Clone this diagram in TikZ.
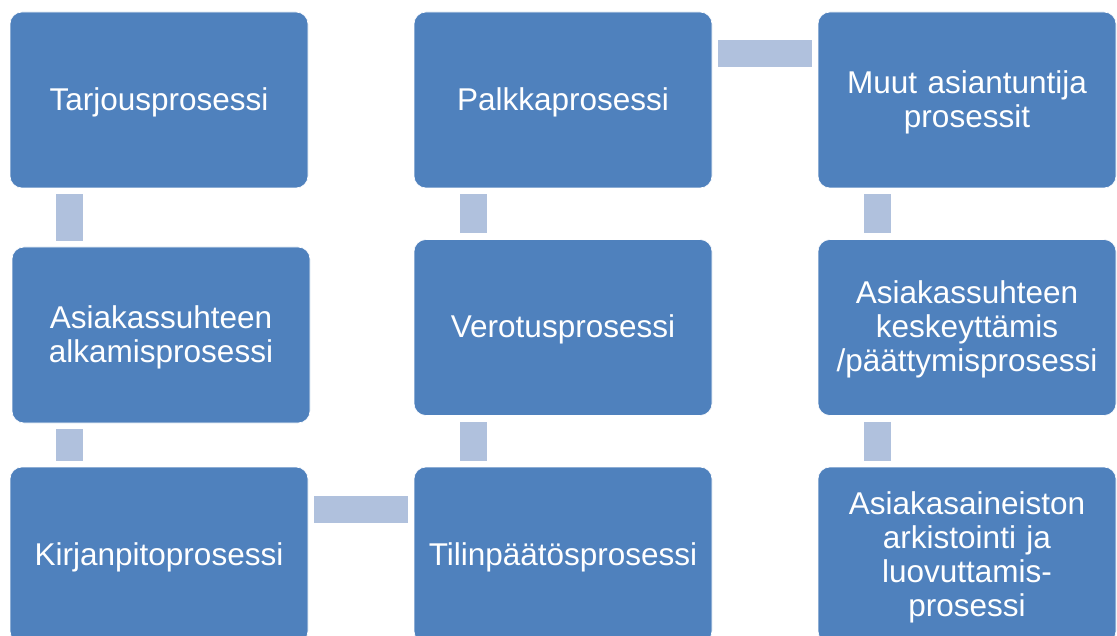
\documentclass[tikz,border=0pt]{standalone}
\usepackage{fontspec}
\setmainfont{Liberation Sans}
\usetikzlibrary{positioning}
\definecolor{boxblue}{HTML}{4F81BD}
\definecolor{linkblue}{HTML}{B0C1DD}

\begin{document}
\begin{tikzpicture}[x=1pt,y=-1pt,
  proc/.style={rectangle,rounded corners=12pt,fill=boxblue,draw=white,line width=0.6pt,
    minimum width=298pt,minimum height=176pt,text width=290pt,inner sep=0pt,
    align=center,text=white,font=\fontsize{31.5}{34}\selectfont,
    execute at end node={\endgraf\vspace*{-4pt}}},
  link/.style={draw=linkblue,line width=27pt,shorten <=6pt,shorten >=6pt}]
  \useasboundingbox (0,0) rectangle (1117,636);
  \clip (0,0) rectangle (1117,636);
  \node[proc] (tarjous) at (159,100) {Tarjousprosessi};
  \node[proc] (alku) at (161,335) {Asiakassuhteen\\alkamisprosessi};
  \node[proc] (kirjan) at (159,555) {Kirjanpitoprosessi};
  \node[proc] (tilin) at (563,555) {Tilinpäätösprosessi};
  \node[proc] (vero) at (563,327.5) {Verotusprosessi};
  \node[proc] (palkka) at (563,100) {Palkkaprosessi};
  \node[proc] (muut) at (967,100) {Muut asiantuntija\\prosessit};
  \node[proc] (paatos) at (967,327.5) {Asiakassuhteen\\keskeyttämis\\/päättymisprosessi};
  \node[proc] (arkisto) at (967,555) {Asiakasaineiston\\arkistointi ja\\luovuttamis-\\prosessi};
  \draw[link] ([xshift=59.5pt]tarjous.south west) -- ([xshift=59.5pt]tarjous.south west |- alku.north);
  \draw[link] ([xshift=59.5pt]tarjous.south west |- alku.south) -- ([xshift=59.5pt]kirjan.north west);
  \draw[link] ([yshift=-42.5pt]kirjan.north east) -- ([yshift=-42.5pt]kirjan.north east -| tilin.west);
  \draw[link] ([xshift=59.5pt]tilin.north west) -- ([xshift=59.5pt]tilin.north west |- vero.south);
  \draw[link] ([xshift=59.5pt]vero.north west) -- ([xshift=59.5pt]vero.north west |- palkka.south);
  \draw[link] ([yshift=-41.5pt]palkka.north east) -- ([yshift=-41.5pt]palkka.north east -| muut.west);
  \draw[link] ([xshift=59.5pt]muut.south west) -- ([xshift=59.5pt]muut.south west |- paatos.north);
  \draw[link] ([xshift=59.5pt]paatos.south west) -- ([xshift=59.5pt]paatos.south west |- arkisto.north);
\end{tikzpicture}
\end{document}
